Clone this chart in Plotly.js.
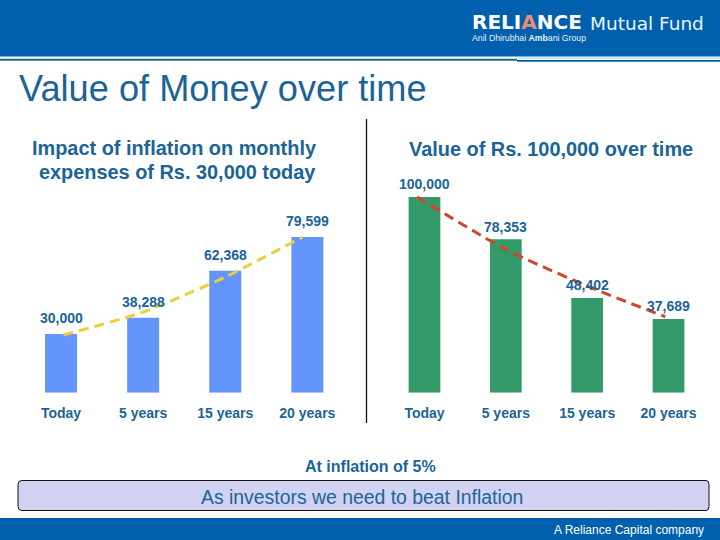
<!DOCTYPE html>
<html><head><meta charset="utf-8"><script src="https://cdn.plot.ly/plotly-3.0.1.min.js"></script>
<style>html,body{margin:0;padding:0;background:#fff}#c{width:720px;height:540px}</style></head>
<body><div id="c"></div>
<script>
const categories = ['Today','5 years','15 years','20 years'];
const expenses = [30000,38288,62368,79599];
const moneyValue = [100000,78353,48402,37689];
const expensesTrendSlot = [0.03,1,2,2.94];
const expensesTrendValue = [29500,41200,59100,79500];
const valueTrendSlot = [-0.09,1,2,2.96];
const valueTrendValue = [100000,73200,54500,38800];

const W=720,H=540,fx=p=>p/W,fy=p=>1-p/H;
const yRange=[0,110000];
const yTop=392.7-110*1.957;
const blue='#1b6498';
const fmt=v=>v.toLocaleString('en-US');
function txtAnn(x,y,text,size,opt){return Object.assign({xref:'paper',yref:'paper',x:fx(x),y:fy(y),text:text,showarrow:false,xanchor:'center',yanchor:'middle',
  font:{family:'Liberation Sans',size:size,color:blue,weight:700}},opt||{});}
const labelAnn=(axis,cats,vals,shift)=>vals.map((v,i)=>({xref:axis,yref:'y',x:cats[i],y:v,yshift:shift,text:fmt(v),showarrow:false,xanchor:'center',yanchor:'middle',
  font:{family:'Liberation Sans',size:14,color:blue,weight:700}}));
const axCommon={showgrid:false,zeroline:false,showline:false,fixedrange:true};
const tick={family:'Liberation Sans',size:14,color:blue,weight:700};
const rect=(x0,y0,x1,y1,fill)=>({type:'rect',xref:'paper',yref:'paper',x0:fx(x0),x1:fx(x1),y0:fy(y0),y1:fy(y1),fillcolor:fill,line:{width:0},layer:'below'});
const traces=[
 {type:'bar',x:categories,y:expenses,marker:{color:'#6495fb'},xaxis:'x',yaxis:'y',hoverinfo:'skip'},
 {type:'bar',x:categories,y:moneyValue,marker:{color:'#359a6a'},xaxis:'x2',yaxis:'y',hoverinfo:'skip'},
 {type:'scatter',mode:'lines',x:expensesTrendSlot,y:expensesTrendValue,line:{color:'#eccf3a',width:3,dash:'10px,6px',shape:'spline',smoothing:0.6},xaxis:'x3',yaxis:'y',hoverinfo:'skip'},
 {type:'scatter',mode:'lines',x:valueTrendSlot,y:valueTrendValue,line:{color:'#d2452a',width:3,dash:'10px,6px',shape:'spline',smoothing:0.6},xaxis:'x4',yaxis:'y',hoverinfo:'skip'}
];
const dl=[fx(20),fx(348.4)],dr=[fx(383.8),fx(709.2)];
const layout={width:W,height:H,margin:{l:0,r:0,t:0,b:0},paper_bgcolor:'#fff',plot_bgcolor:'rgba(0,0,0,0)',showlegend:false,bargap:0.61,
 xaxis:Object.assign({},axCommon,{type:'category',domain:dl,anchor:'y',tickfont:tick,ticks:'',ticklabelstandoff:10,tickangle:0,categoryorder:'array',categoryarray:categories,range:[-0.5,3.5]}),
 xaxis2:Object.assign({},axCommon,{type:'category',domain:dr,anchor:'y',tickfont:tick,ticks:'',ticklabelstandoff:10,tickangle:0,categoryorder:'array',categoryarray:categories,range:[-0.5,3.5]}),
 xaxis3:Object.assign({},axCommon,{type:'linear',domain:dl,anchor:'y',range:[-0.5,3.5],visible:false}),
 xaxis4:Object.assign({},axCommon,{type:'linear',domain:dr,anchor:'y',range:[-0.5,3.5],visible:false}),
 yaxis:Object.assign({},axCommon,{domain:[fy(392.7),fy(yTop)],range:yRange,visible:false}),
 shapes:[
  rect(0,0,720,56.5,'#0060ad'),rect(517,57,720,59,'#c4f0f2'),rect(0,58.7,517,60.7,'#1f6a8a'),rect(517,60,720,61.7,'#0060ad'),
  rect(0,518,720,540,'#0060ad'),
  {type:'line',xref:'paper',yref:'paper',x0:fx(366.5),x1:fx(366.5),y0:fy(119),y1:fy(423),line:{color:'#111',width:1.3}},
  {type:'path',xref:'paper',yref:'paper',layer:'below',fillcolor:'#d2d2f2',line:{color:'#111',width:1},
   path:'M'+fx(22)+','+fy(480.5)+' L'+fx(706)+','+fy(480.5)+' Q'+fx(709)+','+fy(480.5)+' '+fx(709)+','+fy(484.5)+' L'+fx(709)+','+fy(506.5)+' Q'+fx(709)+','+fy(510.5)+' '+fx(706)+','+fy(510.5)+' L'+fx(22)+','+fy(510.5)+' Q'+fx(18)+','+fy(510.5)+' '+fx(18)+','+fy(506.5)+' L'+fx(18)+','+fy(484.5)+' Q'+fx(18)+','+fy(480.5)+' '+fx(22)+','+fy(480.5)+' Z'}
 ],
 annotations:[
  ...labelAnn('x',categories,expenses,15.5),...labelAnn('x2',categories,moneyValue,12.5),
  txtAnn(17,88,'Value of Money over time',36.2,{xanchor:'left',font:{family:'Liberation Sans',size:36.2,color:blue,weight:400}}),
  txtAnn(174,148,'Impact of inflation on monthly',19.9),
  txtAnn(177,172,'expenses of Rs. 30,000 today',19.9),
  txtAnn(551,149,'Value of Rs. 100,000 over time',19.9),
  txtAnn(371,466,'At inflation of 5%',16),
  txtAnn(362,497,'As investors we need to beat Inflation',19.4,{font:{family:'Liberation Sans',size:19.4,color:blue,weight:400}}),
  txtAnn(706,530,'A Reliance Capital company',12,{xanchor:'right',font:{family:'Liberation Sans',size:12,color:'#fff',weight:400}}),
  txtAnn(470,22,'RELI<span style="color:#ee8a7a">A</span>NCE',20,{xanchor:'left',font:{family:'DejaVu Sans',size:20,color:'#fff',weight:700}}),
  txtAnn(588,23,'Mutual Fund',18.5,{xanchor:'left',font:{family:'DejaVu Sans',size:18.5,color:'#e8f4fa',weight:400}}),
  txtAnn(470,38,'Anil Dhirubhai <b>Amb</b>ani Group',8.7,{xanchor:'left',font:{family:'Liberation Sans',size:8.7,color:'#e8f4fa',weight:400}})
 ]};
Plotly.newPlot('c',traces,layout,{staticPlot:true,displayModeBar:false});
</script></body></html>
